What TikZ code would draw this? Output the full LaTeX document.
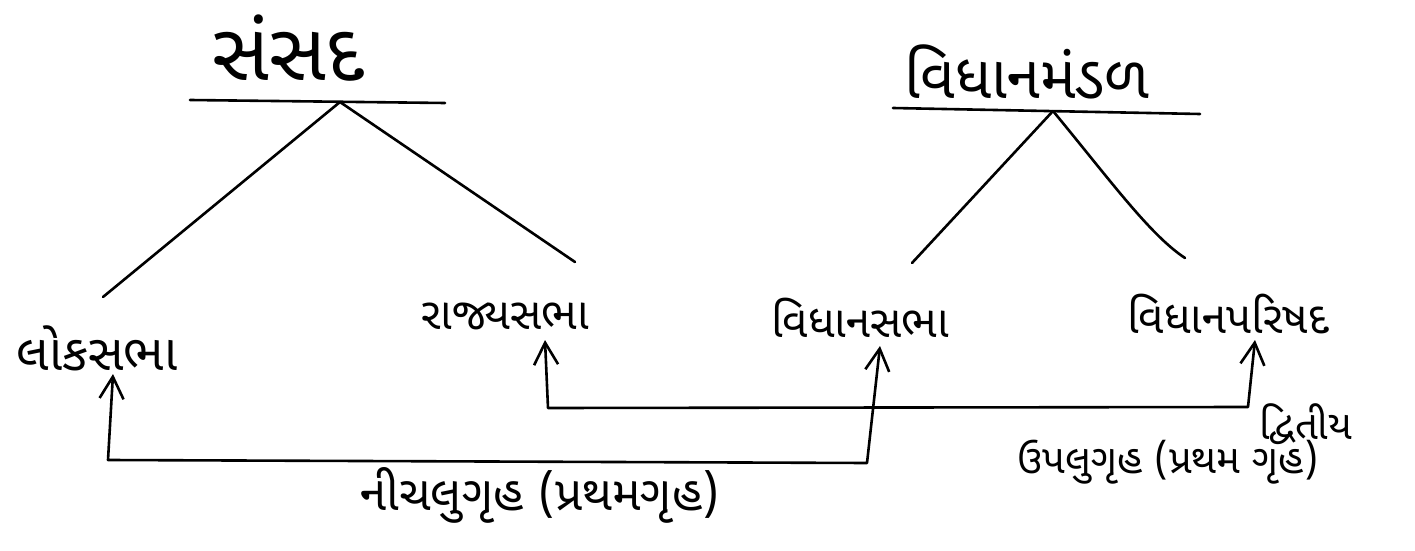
\documentclass[tikz,border=0pt]{standalone}
\usepackage{fontspec}
\newfontfamily\guj[Script=Gujarati]{Noto Sans Gujarati UI}
\usetikzlibrary{arrows.meta}
\begin{document}
\begin{tikzpicture}[x=0.5pt,y=-0.5pt,
  line width=1.3pt, line cap=round, line join=round,
  ttl/.style={font=\guj\fontsize{30}{34}\selectfont, inner sep=0pt},
  lbl/.style={font=\guj\fontsize{22}{26}\selectfont, inner sep=0pt},
  note/.style={font=\guj\fontsize{20}{24}\selectfont, inner sep=0pt},
  conn/.style={{Straight Barb[length=11pt,width=12pt]}-{Straight Barb[length=11pt,width=12pt]}}]
\useasboundingbox (0,0) rectangle (1415,551);
% titles
\node[ttl, font=\guj\fontsize{40}{44}\selectfont] (sansad) at (288,48) {સંસદ};
\node[ttl] (mandal) at (1027,72) {વિધાનમંડળ};
% bars
\coordinate (b1l) at (190,100); \coordinate (b1r) at (445,103);
\coordinate (b2l) at (893,108); \coordinate (b2r) at (1200,114);
\draw (b1l) -- (b1r);
\draw (b2l) -- (b2r);
\coordinate (ap1) at (340,102);
\coordinate (ap2) at (1053,111);
% leaves
\node[lbl, font=\guj\fontsize{25}{29}\selectfont] (lok) at (97,348) {લોકસભા};
\node[lbl] (rajya) at (505,316) {રાજ્યસભા};
\node[lbl] (vsabha) at (860,318) {વિધાનસભા};
\node[lbl] (vpar) at (1228,314) {વિધાનપરિષદ};
% tree edges
\coordinate (e1) at (103,297); \coordinate (e2) at (575,262);
\coordinate (e3) at (912,263); \coordinate (e4) at (1185,258);
\draw (ap1) -- (e1);
\draw (ap1) -- (e2);
\draw (ap2) -- (e3);
\draw (ap2) .. controls (1110,180) and (1150,235) .. (e4);
% connectors
\coordinate (t1) at (113,374); \coordinate (c1a) at (108,460); \coordinate (c1b) at (867,463); \coordinate (t2) at (880,346);
\coordinate (t3) at (545,340); \coordinate (c2a) at (548,408); \coordinate (c2b) at (1248,407); \coordinate (t4) at (1255,340);
\draw[conn] (t1) -- (c1a) -- (c1b) -- (t2);
\draw[conn] (t3) -- (c2a) -- (c2b) -- (t4);
% labels
\node[note, font=\guj\fontsize{24}{28}\selectfont] (lower) at (540,495) {નીચલુગૃહ (પ્રથમગૃહ)};
\node[note, anchor=west] (dvitiya) at (1258,424) {દ્વિતીય};
\node[note] (upper) at (1168,462) {ઉપલુગૃહ (પ્રથમ ગૃહ)};
\end{tikzpicture}
\end{document}
